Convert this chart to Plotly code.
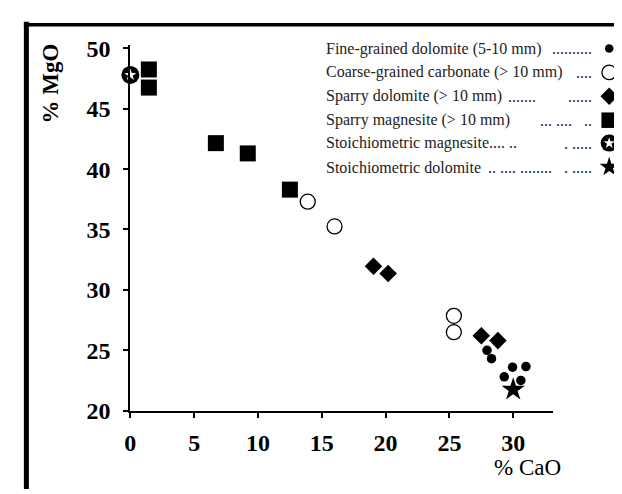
import plotly.graph_objects as go

W, H = 622, 494

# ---------------- data ----------------
fine_cao = [27.95, 28.3, 29.95, 31.0, 29.3, 30.6]
fine_mgo = [25.0, 24.3, 23.6, 23.65, 22.8, 22.5]

coarse_cao = [13.9, 16.0, 25.35, 25.35]
coarse_mgo = [37.3, 35.25, 27.85, 26.5]

sparry_dol_cao = [19.05, 20.2, 27.5, 28.8]
sparry_dol_mgo = [31.95, 31.35, 26.2, 25.8]

sparry_mag_cao = [1.45, 1.45, 6.7, 9.2, 12.5]
sparry_mag_mgo = [48.25, 46.75, 42.15, 41.3, 38.3]

stoich_mag_cao = [0.0]
stoich_mag_mgo = [47.8]

stoich_dol_cao = [30.0]
stoich_dol_mgo = [21.75]

x_ticks = [0, 5, 10, 15, 20, 25, 30]
y_ticks = [20, 25, 30, 35, 40, 45, 50]

legend_labels = [
    "Fine-grained dolomite (5-10 mm)",
    "Coarse-grained carbonate (> 10 mm)",
    "Sparry dolomite (> 10 mm)",
    "Sparry magnesite (> 10 mm)",
    "Stoichiometric magnesite.... ..",
    "Stoichiometric dolomite",
]
legend_leaders = [
    "..........",
    "....",
    ".......\u00a0\u00a0\u00a0\u00a0\u00a0\u00a0\u00a0\u00a0......",
    "...\u00a0....\u00a0\u00a0\u00a0..",
    ".\u00a0.....",
    "..\u00a0....\u00a0........\u00a0\u00a0\u00a0.\u00a0.....",
]

# ---------------- layout geometry (pixels) ----------------
PX_L, PX_R = 117.5, 544.0     # x-axis extent
PY_T, PY_B = 29.0, 412.0      # y-axis extent
LEG_TEXT_X = 313
LEG_LEAD_X = 586
LEG_SYM_X = 601
LEG_ROWS_Y = [33, 58, 83, 108, 132, 157]

SERIF = "Liberation Serif, Times New Roman, serif"
BLACK = "#000000"

fig = go.Figure()

# --- data traces ---
fig.add_trace(go.Scatter(
    x=sparry_mag_cao, y=sparry_mag_mgo, mode="markers",
    marker=dict(symbol="square", size=16, color=BLACK, line=dict(width=0)),
    cliponaxis=False, showlegend=False))
fig.add_trace(go.Scatter(
    x=coarse_cao, y=coarse_mgo, mode="markers",
    marker=dict(symbol="circle", size=15, color="white", line=dict(width=1.3, color=BLACK)),
    cliponaxis=False, showlegend=False))
fig.add_trace(go.Scatter(
    x=sparry_dol_cao, y=sparry_dol_mgo, mode="markers",
    marker=dict(symbol="diamond", size=13.5, color=BLACK, line=dict(width=0)),
    cliponaxis=False, showlegend=False))
fig.add_trace(go.Scatter(
    x=fine_cao, y=fine_mgo, mode="markers",
    marker=dict(symbol="circle", size=9.5, color=BLACK, line=dict(width=0)),
    cliponaxis=False, showlegend=False))
fig.add_trace(go.Scatter(
    x=stoich_dol_cao, y=stoich_dol_mgo, mode="markers",
    marker=dict(symbol="star", size=17.5, color=BLACK, line=dict(width=0)),
    cliponaxis=False, showlegend=False))
fig.add_trace(go.Scatter(
    x=stoich_mag_cao, y=stoich_mag_mgo, mode="markers",
    marker=dict(symbol="circle", size=18, color=BLACK, line=dict(width=0)),
    cliponaxis=False, showlegend=False))
fig.add_trace(go.Scatter(
    x=stoich_mag_cao, y=stoich_mag_mgo, mode="markers",
    marker=dict(symbol="star", size=9, color="white", line=dict(width=0)),
    cliponaxis=False, showlegend=False))

# --- legend key symbols on a pixel-space helper axis ---
leg_styles = [
    dict(symbol="circle", size=8.5, color=BLACK, line=dict(width=0)),
    dict(symbol="circle", size=14.5, color="white", line=dict(width=1.3, color=BLACK)),
    dict(symbol="diamond", size=13.5, color=BLACK, line=dict(width=0)),
    dict(symbol="square", size=15.5, color=BLACK, line=dict(width=0)),
    dict(symbol="circle", size=17, color=BLACK, line=dict(width=0)),
    dict(symbol="star", size=14.5, color=BLACK, line=dict(width=0)),
]
for yy, st in zip(LEG_ROWS_Y, leg_styles):
    fig.add_trace(go.Scatter(x=[LEG_SYM_X], y=[yy], mode="markers", marker=st,
                             xaxis="x2", yaxis="y2", cliponaxis=False,
                             showlegend=False, hoverinfo="skip"))
fig.add_trace(go.Scatter(x=[LEG_SYM_X], y=[LEG_ROWS_Y[4]], mode="markers",
                         marker=dict(symbol="star", size=8.5, color="white", line=dict(width=0)),
                         xaxis="x2", yaxis="y2", cliponaxis=False,
                         showlegend=False, hoverinfo="skip"))

annotations = []
for yy, lab, lead in zip(LEG_ROWS_Y, legend_labels, legend_leaders):
    annotations.append(dict(
        x=LEG_TEXT_X / W, y=1 - yy / H, xref="paper", yref="paper",
        text=lab, showarrow=False, xanchor="left", yanchor="middle",
        font=dict(family=SERIF, size=16, color="#222222")))
    annotations.append(dict(
        x=LEG_LEAD_X / W, y=1 - yy / H, xref="paper", yref="paper",
        text=lead, showarrow=False, xanchor="right", yanchor="middle",
        font=dict(family=SERIF, size=16, color="#222222")))

annotations.append(dict(
    x=37 / W, y=1 - 70 / H, xref="paper", yref="paper", text="% MgO",
    textangle=-90, showarrow=False, xanchor="center", yanchor="middle",
    font=dict(family=SERIF, size=23, color=BLACK, weight="bold")))
annotations.append(dict(
    x=518 / W, y=1 - 471 / H, xref="paper", yref="paper", text="% CaO",
    showarrow=False, xanchor="center", yanchor="middle", borderpad=0,
    font=dict(family=SERIF, size=23, color=BLACK)))

shapes = [
    # outer frame of the scanned figure
    dict(type="line", xref="paper", yref="paper", x0=12.5 / W, x1=12.5 / W, y0=0, y1=1 - 5 / H,
         line=dict(color=BLACK, width=5)),
    dict(type="line", xref="paper", yref="paper", x0=10 / W, x1=617 / W, y0=1 - 8 / H, y1=1 - 8 / H,
         line=dict(color=BLACK, width=3.5)),
    dict(type="line", xref="paper", yref="paper", x0=620 / W, x1=620 / W, y0=0, y1=1 - 6 / H,
         line=dict(color="#555555", width=1)),
]

tickfont = dict(family=SERIF, size=24, color=BLACK, weight="bold")

fig.update_layout(
    width=W, height=H, autosize=False,
    margin=dict(l=0, r=0, t=0, b=0, pad=0),
    paper_bgcolor="white", plot_bgcolor="rgba(0,0,0,0)",
    showlegend=False,
    xaxis=dict(
        domain=[PX_L / W, PX_R / W], range=[0, 33.1],
        tickvals=x_ticks, ticktext=[str(v) for v in x_ticks],
        showline=True, linecolor=BLACK, linewidth=2,
        ticks="outside", ticklen=5, tickwidth=2, tickcolor=BLACK,
        showgrid=False, zeroline=False, tickfont=tickfont,
        ticklabelstandoff=5, anchor="y",
    ),
    yaxis=dict(
        domain=[1 - PY_B / H, 1 - PY_T / H], range=[20, 50.3],
        tickvals=y_ticks, ticktext=[str(v) for v in y_ticks],
        showline=True, linecolor=BLACK, linewidth=2,
        ticks="outside", ticklen=5, tickwidth=2, tickcolor=BLACK,
        showgrid=False, zeroline=False, tickfont=tickfont,
        ticklabelstandoff=8, anchor="x",
    ),
    xaxis2=dict(domain=[0, 1], range=[0, W], visible=False, anchor="y2", fixedrange=True),
    yaxis2=dict(domain=[0, 1], range=[H, 0], visible=False, anchor="x2", fixedrange=True),
    annotations=annotations,
    shapes=shapes,
)

fig.write_html("out.html")
